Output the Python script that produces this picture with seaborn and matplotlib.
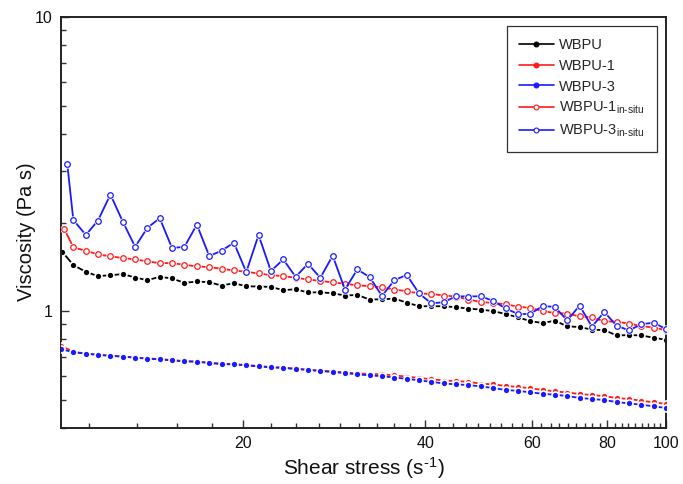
import numpy as np
import pandas as pd
import matplotlib
matplotlib.use("Agg")
import matplotlib.pyplot as plt
from matplotlib.lines import Line2D
from matplotlib.ticker import MultipleLocator, LogLocator, FuncFormatter, NullFormatter
import seaborn as sns

# Shear stress (s^-1) at each measured point
stress = [10.0, 10.48, 10.99, 11.51, 12.07, 12.65, 13.26, 13.89, 14.56, 15.26,
          16.00, 16.77, 17.58, 18.42, 19.31, 20.24, 21.21, 22.23, 23.30, 24.42,
          25.60, 26.83, 28.12, 29.47, 30.89, 32.37, 33.93, 35.56, 37.28, 39.07,
          40.95, 42.92, 44.98, 47.15, 49.42, 51.79, 54.29, 56.90, 59.64, 62.51,
          65.51, 68.66, 71.97, 75.43, 79.06, 82.86, 86.85, 91.03, 95.41, 100.0]

# first recorded shear stress of each run
first_stress = {"WBPU": 10.05, "WBPU-1": 10.0, "WBPU-3": 10.0,
                "WBPU-1 in-situ": 10.13, "WBPU-3 in-situ": 10.24}

# Viscosity (Pa s)
wbpu = [1.590, 1.433, 1.359, 1.314, 1.324, 1.335, 1.300, 1.273, 1.307, 1.290,
        1.246, 1.260, 1.253, 1.221, 1.243, 1.214, 1.211, 1.208, 1.177, 1.186,
        1.156, 1.158, 1.149, 1.129, 1.134, 1.094, 1.096, 1.102, 1.068, 1.038,
        1.038, 1.038, 1.030, 1.019, 1.011, 0.999, 0.977, 0.952, 0.924, 0.910,
        0.927, 0.887, 0.882, 0.864, 0.861, 0.826, 0.828, 0.826, 0.811, 0.798]

wbpu_1 = [0.762, 0.726, 0.717, 0.710, 0.705, 0.700, 0.695, 0.690, 0.686, 0.681,
          0.676, 0.673, 0.667, 0.662, 0.660, 0.655, 0.650, 0.645, 0.642, 0.637,
          0.632, 0.627, 0.623, 0.618, 0.613, 0.611, 0.609, 0.604, 0.598, 0.592,
          0.586, 0.580, 0.578, 0.574, 0.566, 0.563, 0.556, 0.552, 0.546, 0.539,
          0.533, 0.528, 0.522, 0.518, 0.513, 0.506, 0.502, 0.495, 0.489, 0.483]

wbpu_3 = [0.742, 0.724, 0.716, 0.709, 0.704, 0.699, 0.694, 0.688, 0.685, 0.679,
          0.674, 0.672, 0.665, 0.660, 0.658, 0.653, 0.648, 0.643, 0.640, 0.635,
          0.630, 0.625, 0.620, 0.615, 0.609, 0.604, 0.600, 0.594, 0.588, 0.581,
          0.574, 0.567, 0.563, 0.560, 0.554, 0.547, 0.539, 0.535, 0.529, 0.523,
          0.519, 0.514, 0.506, 0.502, 0.498, 0.490, 0.485, 0.480, 0.474, 0.468]

wbpu_1_insitu = [1.897, 1.647, 1.603, 1.558, 1.534, 1.514, 1.498, 1.475, 1.455, 1.455,
                 1.436, 1.418, 1.410, 1.392, 1.374, 1.359, 1.342, 1.324, 1.314, 1.297,
                 1.280, 1.266, 1.251, 1.237, 1.224, 1.214, 1.205, 1.183, 1.168, 1.147,
                 1.143, 1.129, 1.120, 1.094, 1.073, 1.065, 1.054, 1.035, 1.024, 1.000,
                 0.984, 0.980, 0.959, 0.952, 0.922, 0.920, 0.906, 0.889, 0.878, 0.861]

wbpu_3_insitu = [3.170, 2.041, 1.814, 2.030, 2.490, 2.014, 1.654, 1.917, 2.069, 1.637,
                 1.654, 1.967, 1.538, 1.603, 1.708, 1.356, 1.814, 1.367, 1.498, 1.307,
                 1.447, 1.297, 1.542, 1.183, 1.385, 1.304, 1.125, 1.273, 1.327, 1.147,
                 1.062, 1.071, 1.123, 1.120, 1.123, 1.082, 1.021, 0.977, 0.977, 1.040,
                 1.032, 0.929, 1.043, 0.885, 0.992, 0.892, 0.859, 0.901, 0.913, 0.868]

series_names = ["WBPU", "WBPU-1", "WBPU-3", "WBPU-1 in-situ", "WBPU-3 in-situ"]
series_values = [wbpu, wbpu_1, wbpu_3, wbpu_1_insitu, wbpu_3_insitu]
legend_labels = ["WBPU", "WBPU-1", "WBPU-3",
                 r"WBPU-1$_{\text{in-situ}}$", r"WBPU-3$_{\text{in-situ}}$"]

frames = []
for name, vals in zip(series_names, series_values):
    xs = [first_stress[name]] + stress[1:]
    frames.append(pd.DataFrame({"stress": xs, "viscosity": vals, "sample": name}))
df = pd.concat(frames, ignore_index=True)

sns.set_theme(style="ticks")
plt.rcParams["font.family"] = ["Liberation Sans", "DejaVu Sans"]
plt.rcParams["mathtext.fontset"] = "custom"
plt.rcParams["mathtext.rm"] = "Liberation Sans"
plt.rcParams["mathtext.it"] = "Liberation Sans:italic"
plt.rcParams["mathtext.bf"] = "Liberation Sans:bold"

fig = plt.figure(figsize=(6.83, 4.84), dpi=100)
ax = fig.add_axes([61 / 683, 1 - 428 / 484, 605 / 683, 411 / 484])

red = "#ff1a1a"
blue = "#1a1aff"
styles = {
    "WBPU": dict(color="black", filled=True),
    "WBPU-1": dict(color=red, filled=True),
    "WBPU-3": dict(color=blue, filled=True),
    "WBPU-1 in-situ": dict(color=red, filled=False),
    "WBPU-3 in-situ": dict(color=blue, filled=False),
}

for z, name in enumerate(series_names):
    st = styles[name]
    sub = df[df["sample"] == name]
    if st["filled"]:
        # filled dots with a white ring that breaks the connecting line
        sns.lineplot(data=sub, x="stress", y="viscosity", ax=ax, color=st["color"],
                     linewidth=1.3, marker="o", markersize=5.0,
                     markerfacecolor=st["color"], markeredgecolor="white",
                     markeredgewidth=1.2, estimator=None, sort=False,
                     zorder=2 + z)
    else:
        # line with white discs around each point, then hollow circles on top
        sns.lineplot(data=sub, x="stress", y="viscosity", ax=ax, color=st["color"],
                     linewidth=1.3, marker="o", markersize=6.0,
                     markerfacecolor="white", markeredgecolor="white",
                     markeredgewidth=0.0, estimator=None, sort=False,
                     zorder=2 + z)
        sns.lineplot(data=sub, x="stress", y="viscosity", ax=ax, color=st["color"],
                     linewidth=0, marker="o", markersize=4.0,
                     markerfacecolor="white", markeredgecolor=st["color"],
                     markeredgewidth=0.9, estimator=None, sort=False,
                     zorder=2 + z)

ax.set_xscale("log")
ax.set_yscale("log")
ax.set_xlim(10, 100)
ax.set_ylim(0.4, 10)

fmt = FuncFormatter(lambda v, p: f"{v:g}")
ax.xaxis.set_major_locator(MultipleLocator(20))
ax.xaxis.set_minor_locator(MultipleLocator(20 / 9))
ax.xaxis.set_major_formatter(fmt)
ax.xaxis.set_minor_formatter(NullFormatter())
ax.yaxis.set_major_locator(LogLocator(base=10, numticks=5))
ax.yaxis.set_minor_locator(LogLocator(base=10, subs=np.arange(2, 10), numticks=20))
ax.yaxis.set_major_formatter(fmt)
ax.yaxis.set_minor_formatter(NullFormatter())

ax.tick_params(axis="both", which="major", direction="in", length=6, width=1.0,
               labelsize=11.5, pad=6, color="#333333", labelcolor="#111111",
               top=False, right=False)
ax.tick_params(axis="both", which="minor", direction="in", length=3.5, width=1.0,
               color="#333333", top=False, right=False)

for side in ["left", "bottom", "top", "right"]:
    ax.spines[side].set_visible(True)
    ax.spines[side].set_color("#222222")
    ax.spines[side].set_linewidth(1.4)

ax.set_xlabel(r"Shear stress (s$^{\text{-1}}$)", fontsize=15, labelpad=3, color="#111111")
ax.set_ylabel("Viscosity (Pa s)", fontsize=14.5, color="#111111")
ax.yaxis.set_label_coords(-0.041, 0.477)

handles = []
for name in series_names:
    st = styles[name]
    handles.append(Line2D([], [], color=st["color"], linewidth=1.2, marker="o",
                          markersize=3.5,
                          markerfacecolor=st["color"] if st["filled"] else "white",
                          markeredgecolor=st["color"], markeredgewidth=0.8))
leg = ax.legend(handles, legend_labels, loc="upper right",
                bbox_to_anchor=(657 / 683, 1 - 26 / 484), bbox_transform=fig.transFigure,
                borderaxespad=0, fancybox=False, framealpha=1, edgecolor="#333333",
                fontsize=10.5, handlelength=2.4, handletextpad=0.35,
                labelspacing=0.45, borderpad=0.85)
leg.get_frame().set_linewidth(0.9)

fig.savefig("out.png", dpi=100, facecolor="white")
